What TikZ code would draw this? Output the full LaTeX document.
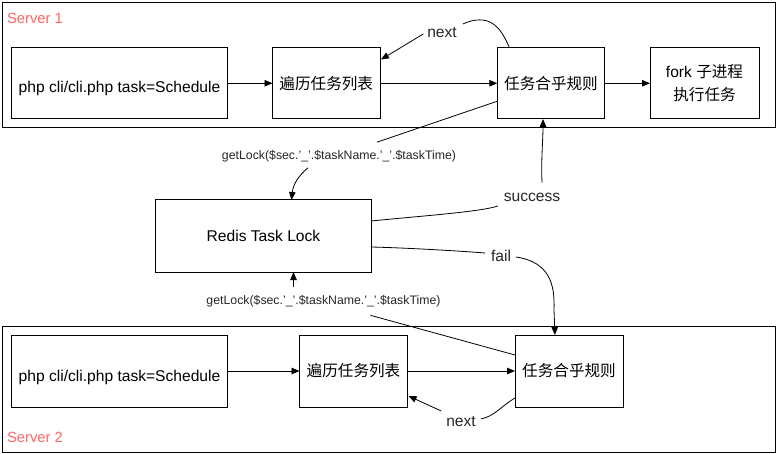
\documentclass[tikz,border=0pt]{standalone}
\usepackage{fontspec}
\setmainfont{Liberation Sans}
\newfontfamily\cjk{Noto Sans CJK SC}
\usetikzlibrary{arrows.meta,calc}
\begin{document}
\begin{tikzpicture}[x=1pt,y=-1pt,
  every node/.style={inner sep=0pt,outer sep=0pt},
  box/.style={draw=black,line width=1pt,fill=white,minimum height=71.5pt,align=center,font=\fontsize{15.6}{23}\selectfont},
  cbox/.style={draw=black,line width=1pt},
  lab/.style={font=\fontsize{15.6}{18}\selectfont,text=black!85},
  small/.style={font=\fontsize{12.3}{14}\selectfont,text=black!85},
  srv/.style={font=\fontsize{14.8}{17}\selectfont,text={rgb,255:red,255;green,102;blue,102},anchor=west},
  conn/.style={line width=0.8pt,draw=black},
  arr/.style={conn,-{Triangle[length=8pt,width=6.5pt]}},
]
\useasboundingbox (0,0) rectangle (778,454);
% containers
\draw[cbox] (2.5,2.5) rectangle (775.5,128);
\draw[cbox] (2.5,326.7) rectangle (775.5,452);
\node[srv] (s1) at (7,18) {Server 1};
\node[srv] (s2) at (7,437) {Server 2};
% server 1 boxes
\node[box,minimum width=216pt] (php1) at (119.5,83.25) {\raisebox{-9pt}[0pt][0pt]{php cli/cli.php task=Schedule}};
\node[box,minimum width=107.5pt] (bl1) at (326.25,83.25) {\cjk 遍历任务列表};
\node[box,minimum width=107.5pt] (rw1) at (551,83.25) {\cjk 任务合乎规则};
\node[box,minimum width=109pt] (fork) at (704.5,83.25) {fork {\cjk 子进程}\\{\cjk 执行任务}};
% redis
\node[box,minimum width=215.5pt,minimum height=72pt] (redis) at (263.5,236) {Redis Task Lock};
% server 2 boxes
\node[box,minimum width=216pt,minimum height=72pt] (php2) at (119.5,371) {\raisebox{-10.5pt}[0pt][0pt]{php cli/cli.php task=Schedule}};
\node[box,minimum width=108pt,minimum height=72pt] (bl2) at (353.5,371) {\cjk 遍历任务列表};
\node[box,minimum width=108pt,minimum height=72pt] (rw2) at (569,371) {\cjk 任务合乎规则};
% labels
\node[lab] (next1) at (442,33) {next};
\node[lab] (succ) at (532,197) {success};
\node[lab] (fail) at (501,256) {fail};
\node[lab] (next2) at (461,422) {next};
\node[small] (gl1) at (339,156) {getLock(\$sec.'\_'.\$taskName.'\_'.\$taskTime)};
\node[small] (gl2) at (323.5,301.5) {getLock(\$sec.'\_'.\$taskName.'\_'.\$taskTime)};
% server 1 connectors
\draw[arr] (php1) -- (bl1);
\draw[arr] (bl1) -- (rw1);
\draw[arr] (rw1) -- (fork);
\draw[conn] ($(rw1.north west)+(12,0)$) .. controls (500,25) and (488,13) .. ($(next1.east)+(6,-9)$);
\draw[arr] ($(next1.west)+(-4,1)$) -- ($(bl1.north east)+(1,12)$);
% getLock 1
\draw[conn] ($(rw1.west)+(0,18)$) -- ($(gl1.north)+(38,-8)$);
\draw[arr] ($(gl1.south)+(-31,6)$) .. controls (298,176) and (293,185) .. ($(redis.north)+(28,0)$);
% success
\draw[conn] ($(redis.east)+(0,-15)$) .. controls (420,216) and (480,212) .. ($(succ.west)+(-6,9)$);
\draw[arr] ($(succ.north)+(10,-10)$) .. controls (541,160) and (543,140) .. ($(rw1.south)+(-8,0)$);
% fail
\draw[conn] ($(redis.east)+(0,11)$) .. controls (410,248) and (460,251) .. ($(fail.west)+(-6,-3)$);
\draw[arr] ($(fail.east)+(5,1)$) .. controls (550,262) and (555,285) .. (554,310) -- ($(rw2.north)+(-14,0)$);
% getLock 2
\draw[conn] ($(gl2.south)+(47,8)$) -- ($(rw2.west)+(0,-16)$);
\draw[arr] ($(gl2.north)+(-30,-9)$) -- ($(redis.south)+(30,0)$);
% server 2 connectors
\draw[arr] (php2) -- (bl2);
\draw[arr] (bl2) -- (rw2);
\draw[conn] ($(rw2.south west)+(0,-9)$) .. controls (500,407) and (495,416) .. ($(next2.east)+(5,-3)$);
\draw[arr] ($(next2.west)+(-5,-11)$) -- ($(bl2.east)+(1,25)$);
\end{tikzpicture}
\end{document}
